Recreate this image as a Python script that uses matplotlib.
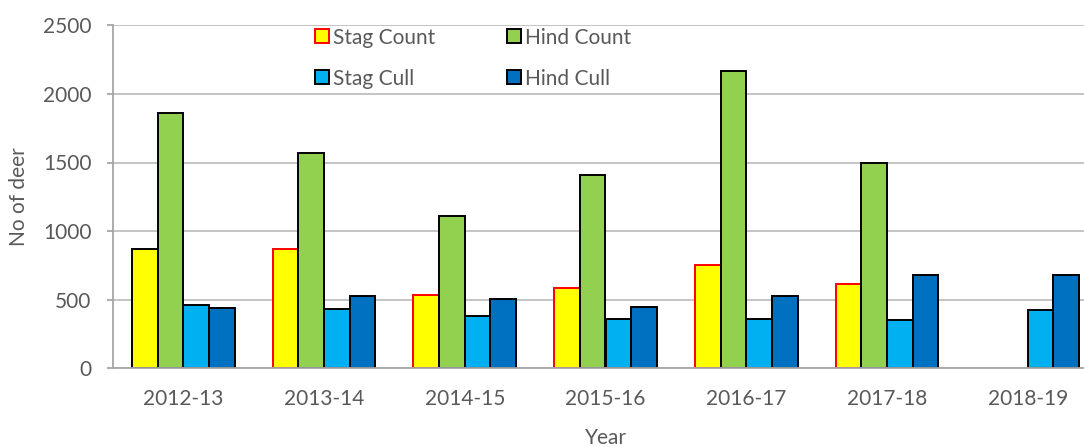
import matplotlib
matplotlib.use('Agg')
import matplotlib.pyplot as plt
from matplotlib.patches import Patch
import numpy as np

# deer counts and culls per season
years = ['2012-13', '2013-14', '2014-15', '2015-16', '2016-17', '2017-18', '2018-19']
stag_count = [867, 870, 534, 588, 751, 617, np.nan]
hind_count = [1859, 1572, 1110, 1406, 2167, 1494, np.nan]
stag_cull = [459, 430, 379, 362, 359, 351, 424]
hind_cull = [440, 527, 503, 445, 525, 678, 683]

plt.rcParams['font.family'] = ['Lato', 'DejaVu Sans']
txt_col = '#595959'
grid_col = '#BFBFBF'
fs = 15

fig = plt.figure(figsize=(10.84, 4.47), dpi=100)
# plot area runs a bit past the right edge of the picture, like the original
ax = fig.add_axes([113/1084, 1 - 368.3/447, 985/1084, 343/447])

x = np.arange(len(years))
w = 0.1825
series = [
    ('Stag Count', stag_count, '#FFFF00', ['black'] + ['#FF0000'] * 6),
    ('Hind Count', hind_count, '#92D050', ['black'] * 7),
    ('Stag Cull', stag_cull, '#00B0F0', ['black'] * 7),
    ('Hind Cull', hind_cull, '#0070C0', ['black'] * 7),
]
for i, (name, vals, fc, ec) in enumerate(series):
    ax.bar(x + (i - 1.5) * w, vals, w, color=fc, edgecolor=ec, linewidth=1.4, zorder=3)

ax.set_xlim(-0.5, len(years) - 0.5)
ax.set_ylim(0, 2500)
ax.set_yticks(np.arange(0, 2501, 500))
ax.set_xticks(x)
ax.set_xticklabels(years)
ax.yaxis.grid(True, color=grid_col, linewidth=1.3, zorder=0)
ax.set_axisbelow(True)

for s in ['top', 'right']:
    ax.spines[s].set_visible(False)
ax.spines['left'].set_color('#A6A6A6')
ax.spines['left'].set_linewidth(1.3)
ax.spines['bottom'].set_color('#A6A6A6')
ax.spines['bottom'].set_linewidth(1.3)
ax.spines['bottom'].set_zorder(4)

ax.tick_params(axis='y', colors='#A6A6A6', labelcolor=txt_col, labelsize=fs,
               length=4.5, width=1.3, pad=11)
ax.tick_params(axis='x', length=0, labelcolor=txt_col, labelsize=fs, pad=15)

ax.set_ylabel('No of deer', fontsize=fs, color=txt_col, va='center')
ax.yaxis.set_label_coords(-94/985, 0.5)
ax.set_xlabel('Year', fontsize=fs, color=txt_col, va='center')
ax.xaxis.set_label_coords(0.5, -69.7/343)

# legend: two columns, stag on the left, hind on the right
order = [0, 2, 1, 3]
handles = [Patch(facecolor=series[k][2], edgecolor=('#FF0000' if k == 0 else 'black'),
                 linewidth=1.4, label=series[k][0]) for k in order]
ax.legend(handles=handles, ncol=2, frameon=False, fontsize=fs,
          loc='upper left', bbox_to_anchor=(315/1084, 1 - 27.5/447),
          bbox_transform=fig.transFigure, borderpad=0, borderaxespad=0,
          handlelength=0.65, handleheight=0.65, handletextpad=0.22,
          columnspacing=3.45, labelspacing=1.02, labelcolor=txt_col)

fig.savefig('out.png', dpi=100)
